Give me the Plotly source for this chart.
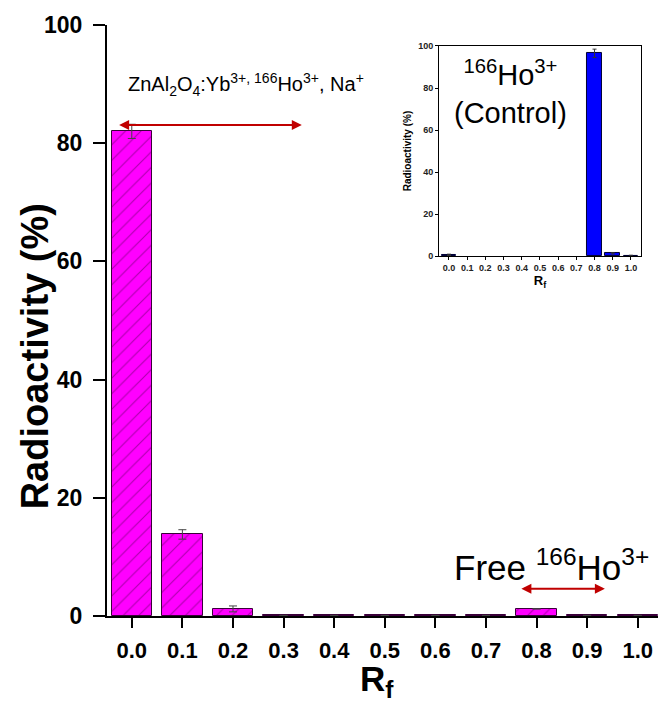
import plotly.graph_objects as go

rf = [0.0, 0.1, 0.2, 0.3, 0.4, 0.5, 0.6, 0.7, 0.8, 0.9, 1.0]
main_vals = [82.0, 13.8, 1.2, 0.1, 0.1, 0.1, 0.1, 0.1, 1.2, 0.1, 0.1]
main_err = [1.2, 0.8, 0.5, 0, 0, 0, 0, 0, 0, 0, 0]
ctrl_vals = [0.6, None, None, None, None, None, None, None, 96.5, 1.3, 0.1]
ctrl_err = [0.3, 0, 0, 0, 0, 0, 0, 0, 2.0, 0.3, 0.3]
y_ticks = [0, 20, 40, 60, 80, 100]

FONT = "Liberation Sans, Arial, sans-serif"

fig = go.Figure()
fig.add_trace(go.Bar(
    x=rf, y=main_vals, width=0.08,
    marker=dict(color="#FF00FF", line=dict(color="#3a003a", width=1),
                pattern=dict(shape="/", fgcolor="#5a005a", size=11, solidity=0.1)),
    error_y=dict(type="data", array=main_err, color="#444", thickness=1, width=4),
    xaxis="x", yaxis="y", showlegend=False))
fig.add_trace(go.Bar(
    x=rf, y=ctrl_vals, width=0.08,
    marker=dict(color="#0000FF", line=dict(color="#000033", width=1)),
    error_y=dict(type="data", array=ctrl_err, color="#333", thickness=1, width=2),
    xaxis="x2", yaxis="y2", showlegend=False))

axis_common = dict(showline=True, linecolor="black", ticks="outside", tickcolor="black",
                   showgrid=False, zeroline=False)

fig.update_layout(
    width=660, height=702,
    margin=dict(l=107, r=2, t=25, b=86),
    plot_bgcolor="white", paper_bgcolor="white",
    font=dict(family=FONT, color="black"),
    bargap=0,
    xaxis=dict(**axis_common, range=[-0.049, 1.04], tickvals=rf, tickformat=".1f",
               linewidth=2, tickwidth=2, ticklen=10, ticklabelstandoff=4,
               tickfont=dict(size=22, weight="bold", family=FONT),
               domain=[0, 1]),
    yaxis=dict(**axis_common, range=[0, 100], tickvals=y_ticks,
               linewidth=2, tickwidth=2, ticklen=12, ticklabelstandoff=6,
               tickfont=dict(size=23, weight="bold", family=FONT),
               domain=[0, 1]),
    xaxis2=dict(**axis_common, anchor="y2", domain=[0.6025, 0.969], range=[-0.055, 1.055],
                tickvals=rf, tickformat=".1f", linewidth=1, tickwidth=1, ticklen=3, mirror=True,
                tickfont=dict(size=9, weight="bold", family=FONT, color="#222"),
                title=dict(text="R<sub>f</sub>", font=dict(size=13, weight="bold", family=FONT), standoff=2)),
    yaxis2=dict(**axis_common, anchor="x2", domain=[0.609, 0.9645], range=[0, 100],
                tickvals=y_ticks, linewidth=1, tickwidth=1, ticklen=3, mirror=True,
                tickfont=dict(size=9, weight="bold", family=FONT, color="#222"),
                title=dict(text="Radioactivity (%)", font=dict(size=10, weight="bold", family=FONT), standoff=4)),
)

ann = []
# y-axis title
ann.append(dict(text="Radioactivity (%)", xref="paper", yref="paper", x=-0.13, y=0.44,
                textangle=-90, showarrow=False, font=dict(size=38, weight="bold", family=FONT),
                xanchor="center", yanchor="middle"))
# x-axis title
ann.append(dict(text="R<sub>f</sub>", xref="paper", yref="paper", x=0.49, y=-0.11,
                showarrow=False, font=dict(size=35, weight="bold", family=FONT),
                xanchor="center", yanchor="middle"))
ann.append(dict(text="ZnAl<sub>2</sub>O<sub>4</sub>:Yb<sup>3+, </sup><sup>166</sup>Ho<sup>3+</sup>, Na<sup>+</sup>",
                xref="x", yref="y", x=0.225, y=90, showarrow=False,
                font=dict(size=20, family=FONT), xanchor="center", yanchor="middle"))
ann.append(dict(text="Free <sup>166</sup>Ho<sup>3+</sup>", xref="x", yref="y", x=0.83, y=8.6,
                showarrow=False, font=dict(size=35, family=FONT), xanchor="center", yanchor="middle"))
# arrows
ann.append(dict(x=0.336, y=83.1, ax=-0.028, ay=83.1, xref="x", yref="y", axref="x", ayref="y",
                text="", showarrow=True, arrowhead=2, startarrowhead=2, arrowside="end+start",
                arrowwidth=2, arrowcolor="#C00000", arrowsize=1, startarrowsize=1))
ann.append(dict(x=0.935, y=4.6, ax=0.767, ay=4.6, xref="x", yref="y", axref="x", ayref="y",
                text="", showarrow=True, arrowhead=2, startarrowhead=2, arrowside="end+start",
                arrowwidth=2, arrowcolor="#C00000", arrowsize=1, startarrowsize=1))
ann.append(dict(text="<sup>166</sup>Ho<sup>3+</sup><br>(Control)", xref="x2", yref="y2", x=0.34, y=78,
                showarrow=False, font=dict(size=29, family=FONT), xanchor="center", yanchor="middle"))
fig.update_layout(annotations=ann)

fig.write_html("out.html")
